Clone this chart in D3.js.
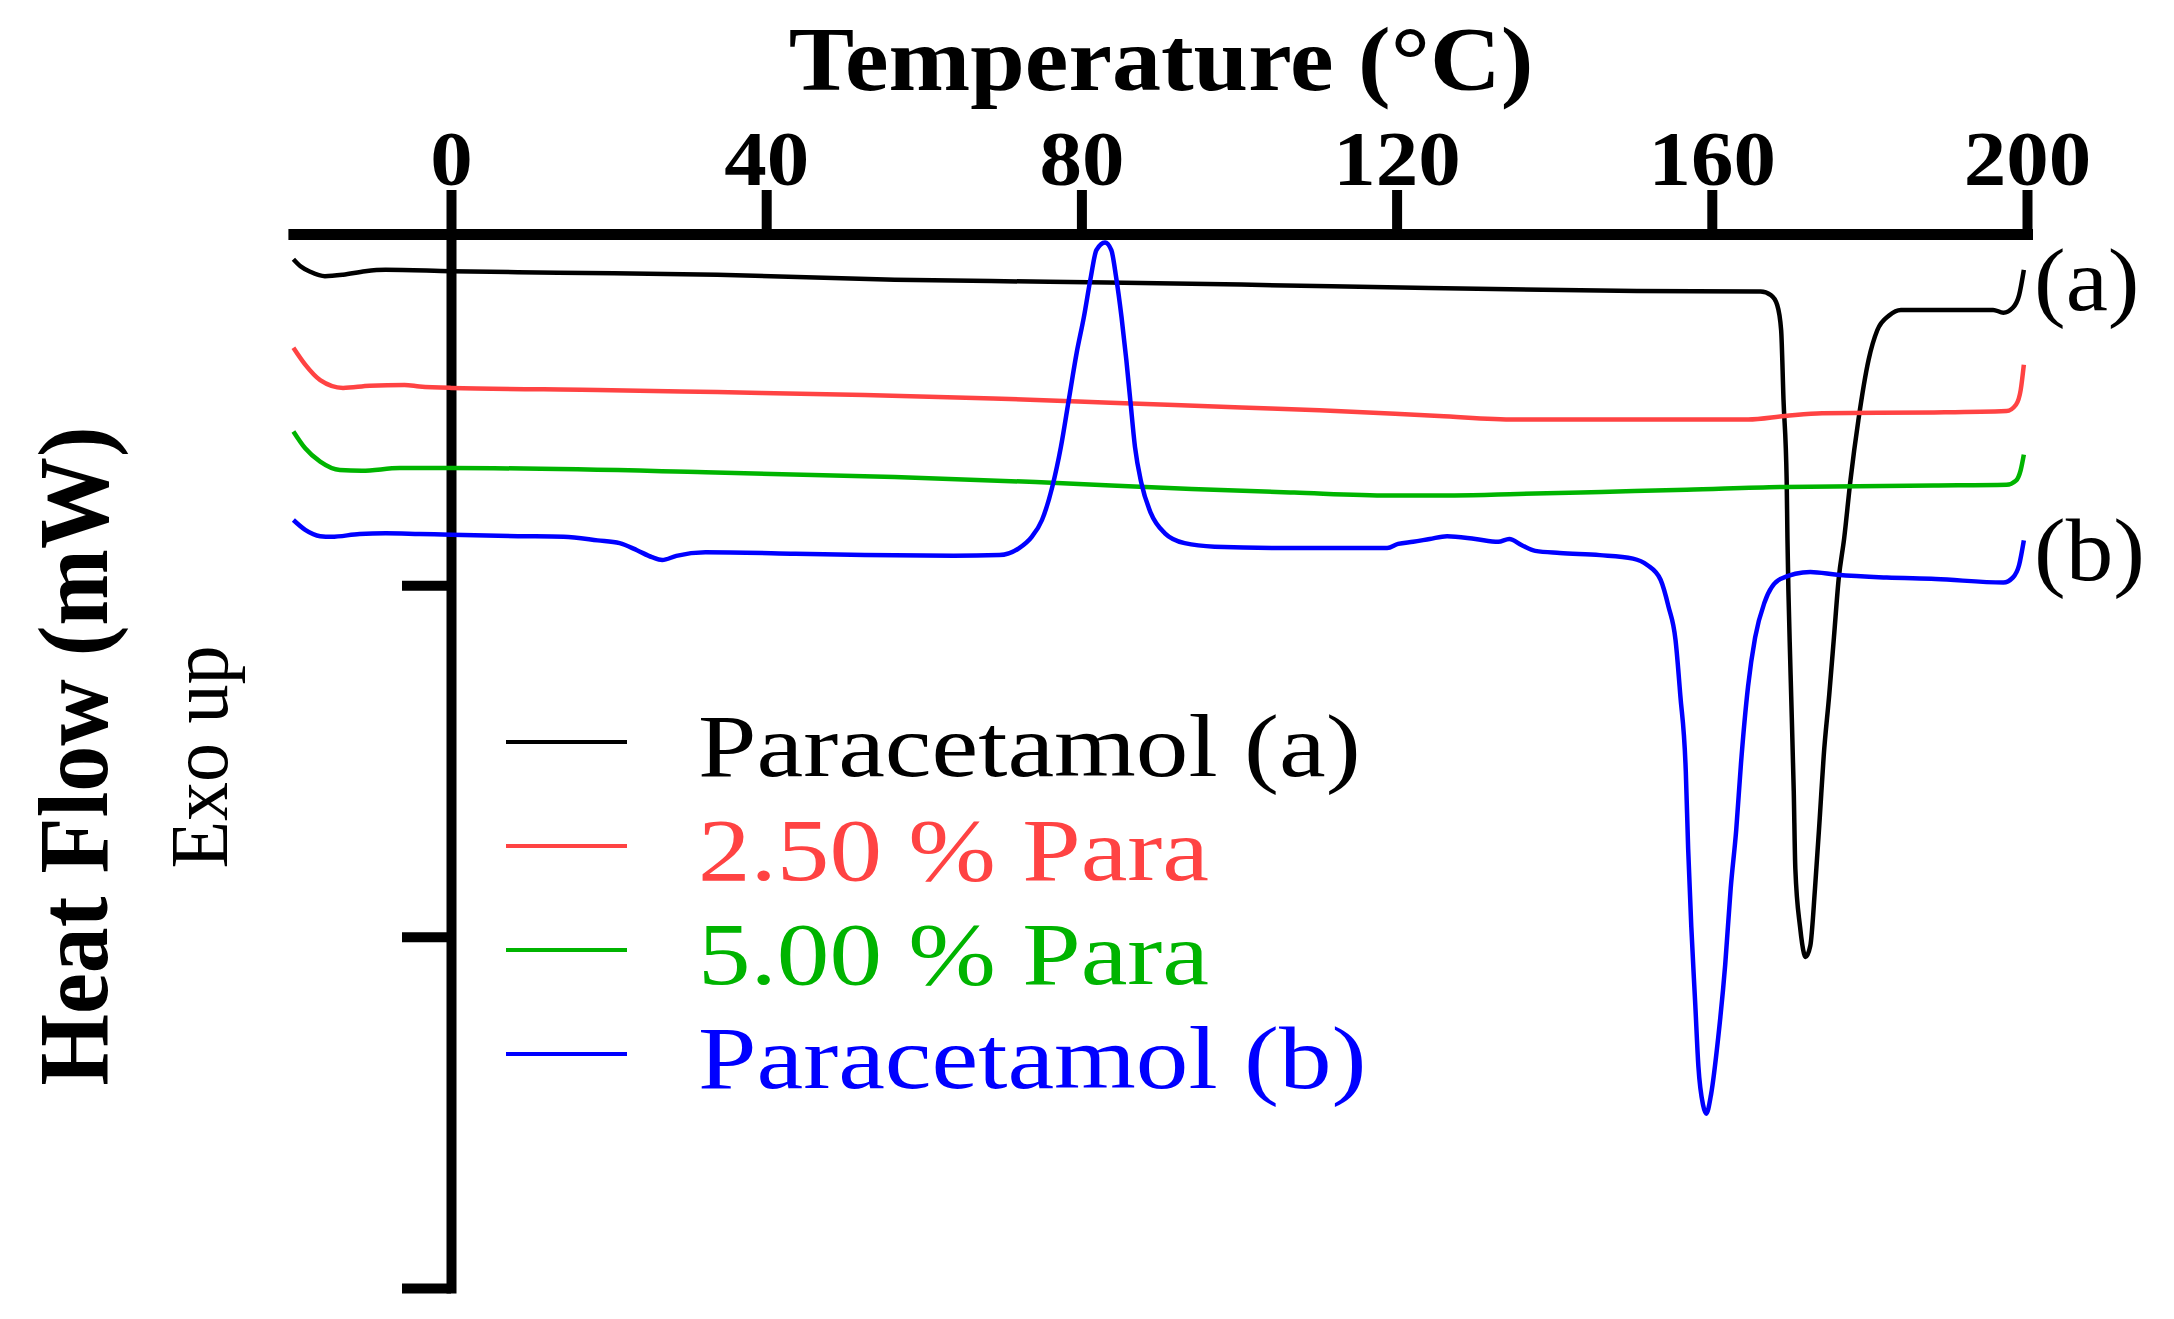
<!DOCTYPE html>
<html>
<head>
<meta charset="utf-8">
<script src="https://cdn.jsdelivr.net/npm/d3@7"></script>
<style>
  body { margin: 0; background: #fff; }
  svg { display: block; }
</style>
</head>
<body>
<svg id="chart" width="2174" height="1319"></svg>
<script>
// temperature ticks on the top axis
const tempTicks = [0, 40, 80, 120, 160, 200];
// heat flow ticks (unlabelled in the original)
const flowTicks = [-5, -10, -15];

// Paracetamol (a)
const tempA = [-20.0, -19.1, -17.8, -16.0, -13.7, -10.9, -8.3, 0, 13.6, 33.8, 56.3, 75.9, 100.3, 124.1, 150.5, 166.2, 167.5, 168.3, 168.8, 169.1, 169.5, 169.6, 170.0, 170.4, 170.6, 171.2, 171.7, 171.9, 172.5, 173.1, 173.7, 174.2, 174.9, 175.5, 176.1, 176.8, 177.6, 178.6, 179.9, 181.0, 182.5, 184.0, 195.7, 197.0, 198.2, 199.0, 199.6];
const flowA = [-0.36, -0.46, -0.54, -0.60, -0.58, -0.53, -0.51, -0.53, -0.55, -0.58, -0.65, -0.68, -0.72, -0.77, -0.81, -0.82, -0.87, -1.01, -1.37, -2.36, -3.50, -4.33, -6.27, -7.93, -9.03, -9.86, -10.24, -10.29, -10.13, -9.31, -8.31, -7.43, -6.56, -5.74, -4.91, -4.33, -3.50, -2.65, -1.79, -1.37, -1.16, -1.08, -1.08, -1.12, -1.05, -0.87, -0.51];

// 2.50 % Para
const tempR = [-20.0, -18.5, -16.6, -13.7, -10.3, -5.9, -4.0, 0, 18.6, 33.8, 52.5, 68.8, 83.7, 100.3, 110.2, 125.4, 135.1, 150.5, 164.6, 169.3, 174.0, 188.2, 197.4, 198.6, 199.2, 199.6];
const flowR = [-1.62, -1.86, -2.08, -2.19, -2.16, -2.15, -2.17, -2.19, -2.22, -2.25, -2.29, -2.34, -2.40, -2.47, -2.51, -2.59, -2.64, -2.64, -2.64, -2.59, -2.55, -2.54, -2.52, -2.43, -2.22, -1.86];

// 5.00 % Para
const tempG = [-20.0, -18.5, -16.6, -14.1, -11.3, -6.5, 0, 32.3, 56.3, 74.2, 94.0, 107.0, 119.1, 127.3, 135.4, 146.0, 156.8, 169.3, 188.2, 197.4, 198.6, 199.2, 199.6];
const flowG = [-2.81, -3.05, -3.24, -3.36, -3.37, -3.33, -3.33, -3.39, -3.46, -3.53, -3.63, -3.68, -3.72, -3.72, -3.70, -3.67, -3.64, -3.60, -3.58, -3.57, -3.51, -3.36, -3.14];

// Paracetamol (b)
const tempB = [-20.0, -18.5, -16.6, -15.2, -11.6, -8.3, -4.0, 0, 8.5, 14.3, 18.6, 21.4, 23.6, 25.5, 26.8, 28.6, 32.3, 43.7, 52.5, 63.8, 69.6, 72.1, 73.7, 75.0, 76.3, 77.4, 78.4, 79.4, 80.3, 81.2, 81.9, 83.0, 83.8, 84.4, 85.1, 85.7, 86.2, 86.8, 87.6, 88.8, 90.6, 93.1, 96.9, 107.3, 114.1, 118.8, 120.2, 122.1, 124.2, 126.4, 130.0, 132.9, 134.3, 135.9, 137.6, 140.7, 145.8, 150.0, 151.8, 153.5, 154.5, 155.4, 156.0, 156.7, 157.0, 157.4, 157.9, 158.3, 158.9, 159.3, 159.9, 160.8, 161.7, 162.4, 163.1, 163.7, 164.6, 165.5, 166.7, 168.7, 172.5, 175.9, 182.2, 188.4, 197.0, 198.2, 199.0, 199.6];
const flowB = [-4.07, -4.21, -4.30, -4.31, -4.27, -4.26, -4.27, -4.28, -4.30, -4.31, -4.36, -4.40, -4.50, -4.60, -4.64, -4.58, -4.53, -4.55, -4.57, -4.58, -4.57, -4.47, -4.31, -4.07, -3.60, -3.03, -2.36, -1.69, -1.19, -0.61, -0.23, -0.12, -0.23, -0.61, -1.19, -1.79, -2.36, -3.03, -3.54, -3.97, -4.26, -4.40, -4.45, -4.47, -4.47, -4.47, -4.41, -4.38, -4.34, -4.30, -4.34, -4.38, -4.34, -4.43, -4.51, -4.54, -4.57, -4.62, -4.71, -4.92, -5.30, -5.78, -6.56, -7.65, -8.75, -9.86, -10.96, -11.85, -12.40, -12.52, -12.25, -11.45, -10.40, -9.31, -8.48, -7.54, -6.44, -5.74, -5.24, -4.91, -4.81, -4.85, -4.89, -4.91, -4.96, -4.89, -4.71, -4.36];

const seriesNames = ["Paracetamol (a)", "2.50 % Para", "5.00 % Para", "Paracetamol (b)"];
const seriesColors = ["#000000", "#ff4343", "#00b400", "#0000ff"];

const series = [
    {name: seriesNames[0], color: seriesColors[0], t: tempA, f: flowA},
    {name: seriesNames[1], color: seriesColors[1], t: tempR, f: flowR},
    {name: seriesNames[2], color: seriesColors[2], t: tempG, f: flowG},
    {name: seriesNames[3], color: seriesColors[3], t: tempB, f: flowB}
];

const svg = d3.select("#chart");
const serif = "'Liberation Serif', 'Times New Roman', serif";

const x = d3.scaleLinear().domain([-20, 200]).range([293.4, 2027]);
const y = d3.scaleLinear().domain([-15, 0]).range([1288, 234]);

// text helper, sx stretches the glyphs a bit (original is set in Palatino)
function label(txt, tx, ty, size, weight, sx, anchor, color, rot) {
    svg.append("text")
        .attr("transform", `translate(${tx},${ty}) rotate(${rot || 0}) scale(${sx},1)`)
        .attr("font-family", serif)
        .attr("font-size", size)
        .attr("font-weight", weight)
        .attr("text-anchor", anchor)
        .attr("fill", color || "#000")
        .text(txt);
}

// top temperature axis
const xAxis = svg.append("g")
    .attr("transform", `translate(0,${y(0)})`)
    .call(d3.axisTop(x).tickValues(tempTicks).tickSize(44).tickSizeOuter(0).tickPadding(5));
xAxis.select(".domain").attr("stroke-width", 11).attr("stroke-linecap", "square");
xAxis.selectAll(".tick line").attr("stroke-width", 10);
xAxis.selectAll(".tick text")
    .attr("font-family", serif)
    .attr("font-size", 78)
    .attr("font-weight", "bold")
    .attr("fill", "#000")
    .attr("transform", "scale(1.09,1)");

// left heat flow axis
const yAxis = svg.append("g")
    .attr("transform", `translate(${x(0)},0)`)
    .call(d3.axisLeft(y).tickValues(flowTicks).tickSize(49).tickSizeOuter(0).tickFormat(""));
yAxis.select(".domain").attr("stroke-width", 10).attr("stroke-linecap", "square");
yAxis.selectAll(".tick line").attr("stroke-width", 10);

// curves
const line = d3.line()
    .x(d => x(d[0]))
    .y(d => y(d[1]))
    .curve(d3.curveMonotoneX);

series.forEach(s => {
    svg.append("path")
        .datum(s.t.map((t, i) => [t, s.f[i]]))
        .attr("fill", "none")
        .attr("stroke", s.color)
        .attr("stroke-width", 4.5)
        .attr("stroke-linejoin", "round")
        .attr("d", line);
});

// titles
label("Temperature (°C)", 1161, 90, 90, "bold", 1.09, "middle");
label("Heat Flow (mW)", 107, 756, 100, "bold", 0.92, "middle", "#000", -90);
label("Exo up", 227, 757, 83, "normal", 0.94, "middle", "#000", -90);

// curve tags
label("(a)", 2034, 310, 88, "normal", 1.08, "start");
label("(b)", 2034, 580, 88, "normal", 1.08, "start");

// legend
const legendY = [742, 846, 950, 1054];
series.forEach((s, i) => {
    svg.append("line")
        .attr("x1", 506).attr("x2", 627)
        .attr("y1", legendY[i]).attr("y2", legendY[i])
        .attr("stroke", s.color)
        .attr("stroke-width", 4);
    label(s.name, 698, legendY[i] + 34, 88, "normal", 1.195, "start", s.color);
});
</script>
</body>
</html>
